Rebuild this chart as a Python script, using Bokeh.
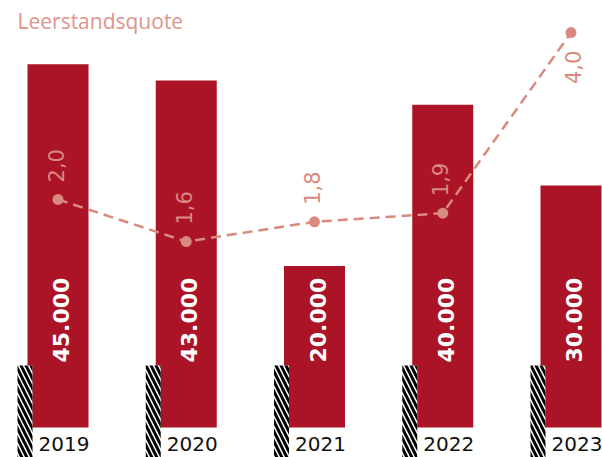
import math
from bokeh.plotting import figure
from bokeh.models import Range1d, Label
from bokeh.core.properties import value
from bokeh.embed import file_html
from bokeh.resources import INLINE

# ---- data ----
years = ["2019", "2020", "2021", "2022", "2023"]
vacancies = [45000, 43000, 20000, 40000, 30000]
vacancy_labels = ["45.000", "43.000", "20.000", "40.000", "30.000"]
rate = [2.04, 1.55, 1.78, 1.88, 3.98]
rate_labels = ["2,0", "1,6", "1,8", "1,9", "4,0"]
title_text = "Leerstandsquote"

# ---- layout constants ----
W, H = 602, 457
PX = 128.25          # px per category step
X0 = 57.5            # px of first category centre
BY = 8.07 / 1000     # px per vacancy unit
YB0 = 30             # px from bottom of zero line
RY = 86.0            # px per rate unit
RY0 = 82.6           # px from bottom of rate zero
BW = 61 / PX

BAR = "#ab1427"
PINK = "#d98a80"

idx = list(range(len(years)))

p = figure(width=W, height=H, output_backend="svg", toolbar_location=None,
           x_range=Range1d(-X0 / PX, (W - X0) / PX),
           y_range=Range1d(-YB0 / BY, (H - YB0) / BY),
           x_axis_location=None, y_axis_location=None,
           min_border=0, outline_line_color=None)
p.grid.visible = False
p.extra_y_ranges = {"rate": Range1d(-RY0 / RY, (H - RY0) / RY)}

p.vbar(x=idx, top=vacancies, bottom=0, width=BW, fill_color=BAR, line_color=None)

# hatched strips at the lower left of each bar
p.quad(left=[i - BW / 2 - 10 / PX for i in idx],
       right=[i - BW / 2 + 5 / PX for i in idx],
       bottom=-YB0 / BY - 1000, top=62 / BY,
       fill_color="white", line_color=None,
       hatch_pattern="\\", hatch_color="black", hatch_weight=3, hatch_scale=10)

p.line(x=idx, y=rate, y_range_name="rate", line_color=PINK, line_width=2.5,
       line_dash="10 6")
p.scatter(x=idx, y=rate, y_range_name="rate", size=11, fill_color=PINK,
          line_color=None)

# values inside bars
p.text(x=idx, y=[0] * len(idx), text=vacancy_labels, angle=math.pi / 2,
       text_align="left", text_baseline="middle", x_offset=3, y_offset=-65,
       text_color="white", text_font=value("DejaVu Sans"),
       text_font_style="bold", text_font_size="22px")

# rate labels
p.text(x=idx[:4], y=rate[:4], text=rate_labels[:4], y_range_name="rate",
       angle=math.pi / 2, text_align="left", text_baseline="middle",
       x_offset=-2.5, y_offset=-17, text_color=PINK,
       text_font=value("DejaVu Sans"), text_font_size="21px")
p.text(x=idx[4:], y=rate[4:], text=rate_labels[4:], y_range_name="rate",
       angle=math.pi / 2, text_align="right", text_baseline="middle",
       x_offset=2, y_offset=18, text_color=PINK,
       text_font=value("DejaVu Sans"), text_font_size="21px")

# year labels
p.text(x=[i - BW / 2 + 11 / PX for i in idx], y=[-16 / BY] * len(idx), text=years,
       text_align="left", text_baseline="middle", text_color="#111111",
       text_font=value("DejaVu Sans"), text_font_size="20px")

p.add_layout(Label(x=17, y=H - 20, x_units="screen", y_units="screen",
                   text=title_text, text_font="Open Sans", text_font_size="21px",
                   text_color="#e0958c", text_baseline="alphabetic"))

open("out.html", "w").write(file_html(p, INLINE))
